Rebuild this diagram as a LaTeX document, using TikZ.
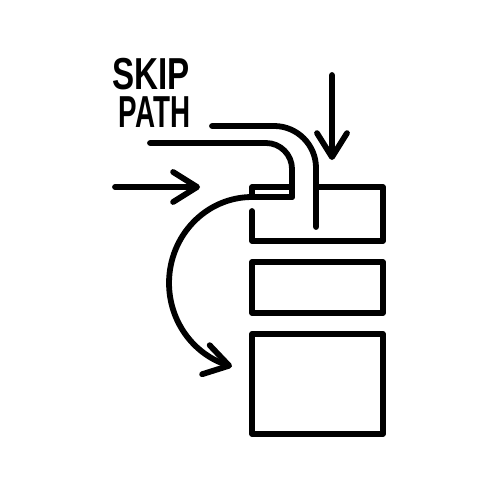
\documentclass[tikz,border=0pt]{standalone}
\usepackage{fontspec}
\newfontfamily\skipfont{Liberation Sans}[FakeStretch=0.74]
\newfontfamily\pathfont{Liberation Sans}[FakeStretch=0.62]
\usetikzlibrary{positioning, calc, arrows.meta, bending}

\begin{document}
\begin{tikzpicture}[
    x=0.02cm, y=0.02cm,
    line width=3.3pt, line join=round, line cap=round,
    block/.style={rectangle, draw=black, inner sep=0, outer sep=0, minimum width=2.62cm},
    label/.style={anchor=south east, inner sep=0, text depth=0pt, align=right,
        font=\bfseries\fontsize{25.5}{21.6}\selectfont},
    arrow/.style={-{Straight Barb[length=0.48cm, width=0.6cm, round]}}
]
    \useasboundingbox (0,0) rectangle (500,500);

    % Blocks
    \node[block, minimum height=1.02cm] (box2) at (317.5,212.5) {};
    \node[block, draw=none, minimum height=1.08cm, above=0.42cm of box2] (box1) {};
    \node[block, minimum height=2cm, below=0.42cm of box2] (box3) {};

    % Top block, open where the paths come in
    \draw ($(box1.north west)+(64,0)$) -- (box1.north east) -- (box1.south east)
        -- (box1.south west) -- ($(box1.south west)+(0,30)$);
    \draw ($(box1.north west)+(40,0)$) -- (box1.north west)
        -- ($(box1.north west)+(0,-10)$) -- ($(box1.north west)+(40,-10)$);

    % Skip paths
    \draw[rounded corners=0.52cm] (150,357) -| ($(box1.north west)+(40,-10)$);
    \draw[rounded corners=0.84cm] (212,374) -| ($(box1.north west)+(64,-40)$);

    % Label
    \node[label] (skippath) at (193,370) {\skipfont SKIP\\\pathfont PATH};

    % Inputs
    \coordinate (inleft) at (115,313);
    \coordinate (intop) at (332,425);
    \draw[arrow] (inleft) -- (200,313);
    \draw[arrow] (intop) -- ($(box1.north east)+(-51,27)$);

    % Jump to the last block
    \draw[arrow] ($(box1.north west)+(0,-10)$) arc[start angle=90, end angle=256, x radius=1.66cm, y radius=1.72cm];

\end{tikzpicture}
\end{document}
